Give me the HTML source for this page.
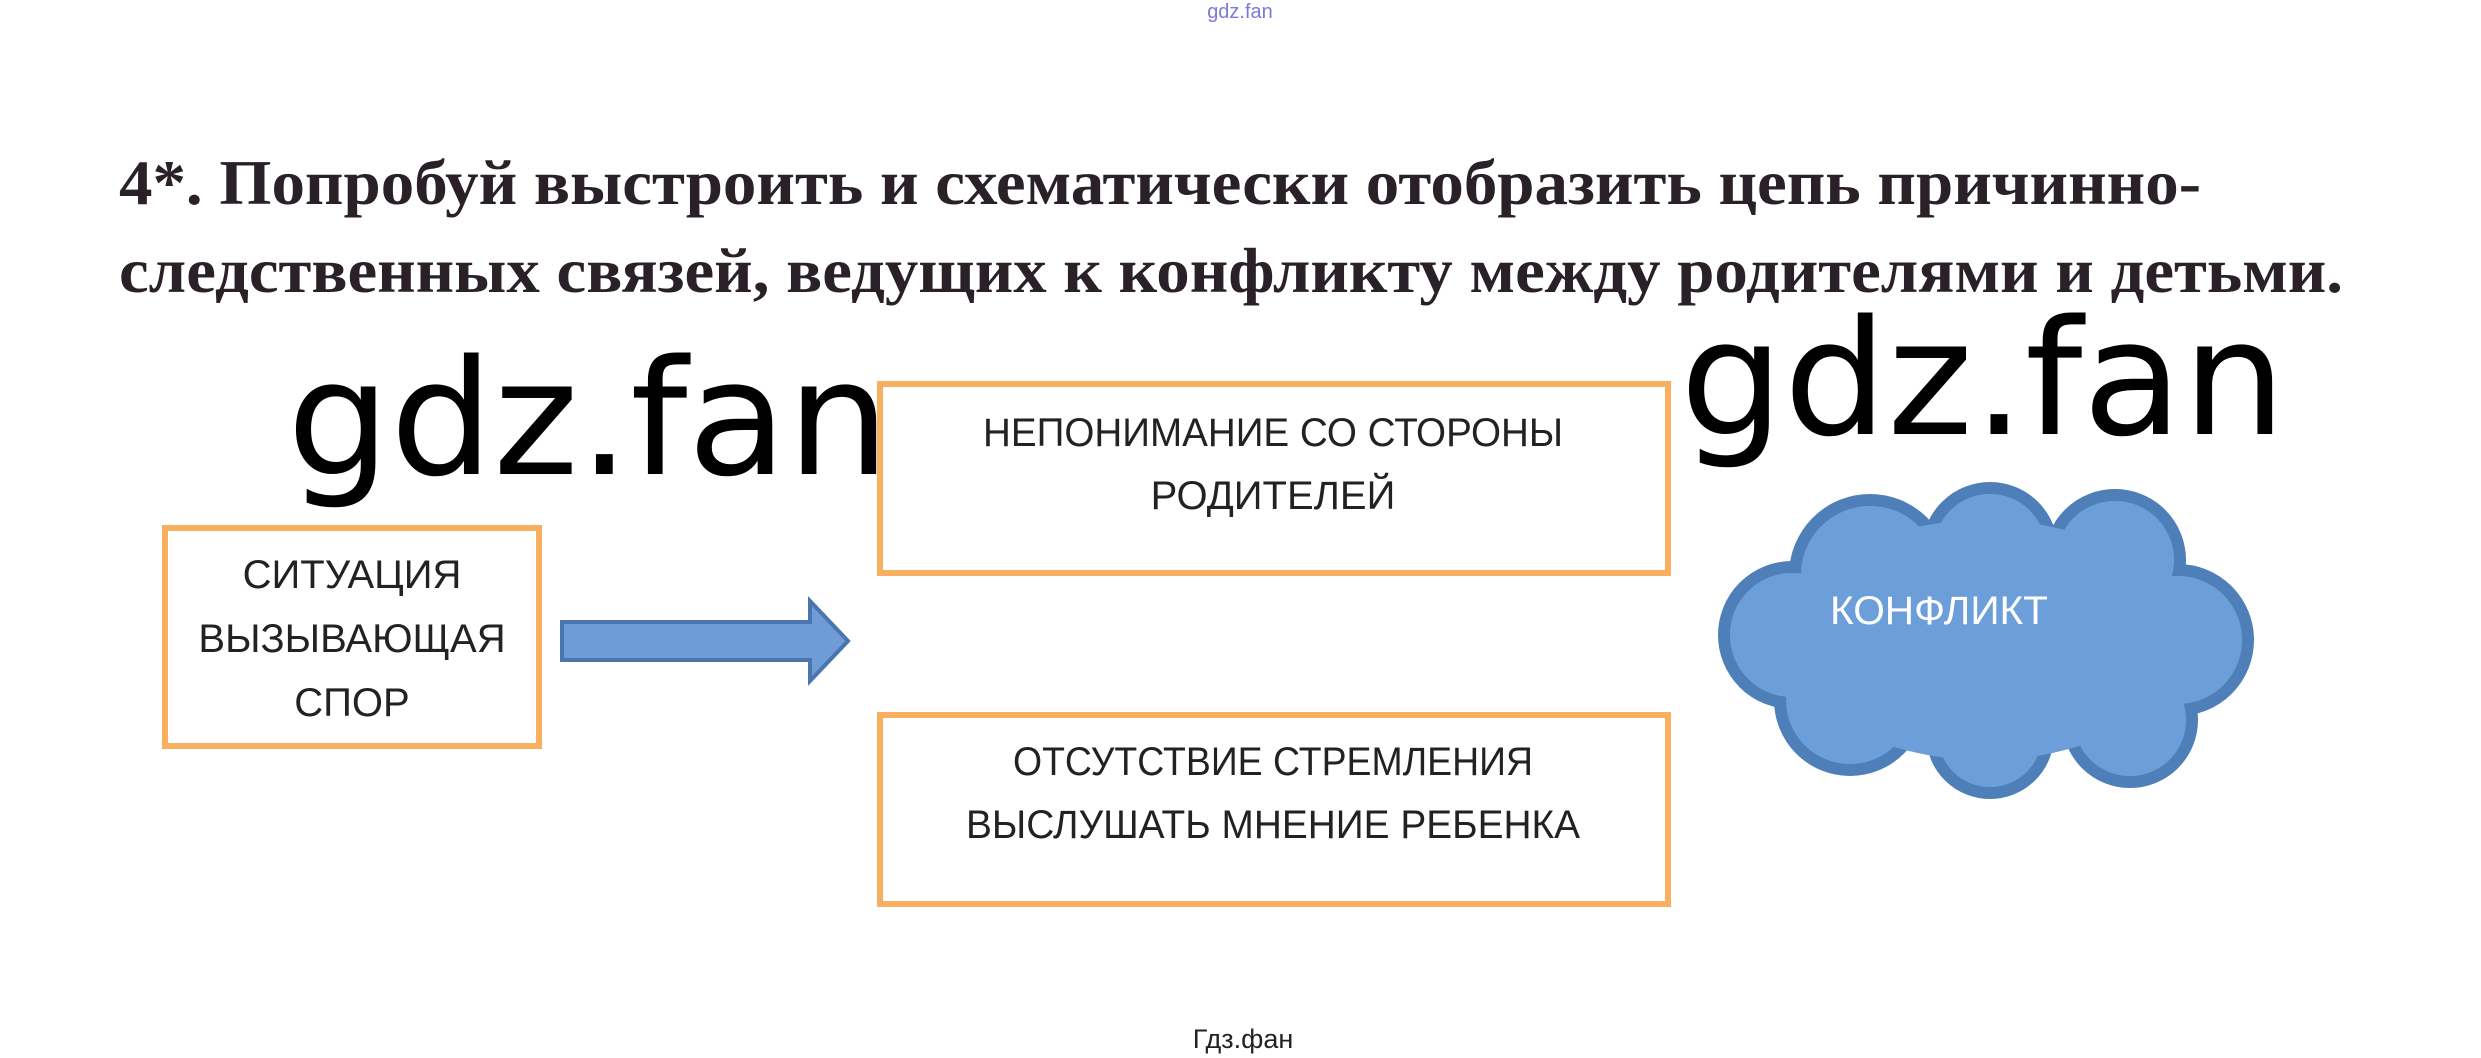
<!DOCTYPE html>
<html><head><meta charset="utf-8"><style>html,body{margin:0;padding:0;background:#fff;width:2481px;height:1058px;overflow:hidden}</style></head>
<body>
<svg width="2481" height="1058" viewBox="0 0 2481 1058" xmlns="http://www.w3.org/2000/svg">
<rect width="2481" height="1058" fill="#fff"/>
<text x="1240" y="18" font-family="Liberation Sans, sans-serif" font-size="20" fill="#7a7ad8" text-anchor="middle">gdz.fan</text>
<g font-family="Liberation Serif, serif" font-weight="bold" font-size="64" fill="#2a2128">
<text x="119" y="204" textLength="2082" lengthAdjust="spacingAndGlyphs">4*. Попробуй выстроить и схематически отобразить цепь причинно-</text>
<text x="119" y="292" textLength="2224" lengthAdjust="spacingAndGlyphs">следственных связей, ведущих к конфликту между родителями и детьми.</text>
</g>
<g fill="none" stroke="#F8B060" stroke-width="6">
<rect x="165" y="528" width="374" height="218"/>
<rect x="880" y="384" width="788" height="189"/>
<rect x="880" y="715" width="788" height="189"/>
</g>
<g font-family="Liberation Sans, sans-serif" font-size="40" fill="#222" text-anchor="middle">
<text x="352" y="588">СИТУАЦИЯ</text>
<text x="352" y="652">ВЫЗЫВАЮЩАЯ</text>
<text x="352" y="716">СПОР</text>
<text x="1273" y="446" textLength="580" lengthAdjust="spacingAndGlyphs">НЕПОНИМАНИЕ СО СТОРОНЫ</text>
<text x="1273" y="509">РОДИТЕЛЕЙ</text>
<text x="1273" y="775" textLength="520" lengthAdjust="spacingAndGlyphs">ОТСУТСТВИЕ СТРЕМЛЕНИЯ</text>
<text x="1273" y="838" textLength="614" lengthAdjust="spacingAndGlyphs">ВЫСЛУШАТЬ МНЕНИЕ РЕБЕНКА</text>
</g>
<path d="M562 622 H810 V601 L848 641 L810 681 V660 H562 Z" fill="#6F9BD6" stroke="#4A76B0" stroke-width="4"/>
<g stroke="#4F7FB8" stroke-width="12" fill="#6C9FDA">
<circle cx="1870" cy="575" r="75"/><circle cx="1990" cy="550" r="62"/><circle cx="2115" cy="560" r="65"/>
<circle cx="2178" cy="640" r="70"/><circle cx="2130" cy="720" r="62"/><circle cx="1990" cy="735" r="58"/>
<circle cx="1850" cy="700" r="70"/><circle cx="1792" cy="635" r="68"/>
</g>
<g fill="#6C9FDA">
<circle cx="1870" cy="575" r="69"/><circle cx="1990" cy="550" r="56"/><circle cx="2115" cy="560" r="59"/>
<circle cx="2178" cy="640" r="64"/><circle cx="2130" cy="720" r="56"/><circle cx="1990" cy="735" r="52"/>
<circle cx="1850" cy="700" r="64"/><circle cx="1792" cy="635" r="62"/>
<ellipse cx="1985" cy="640" rx="200" ry="120"/>
</g>
<text x="1830" y="624" font-family="Liberation Sans, sans-serif" font-size="40" fill="#fff" textLength="218" lengthAdjust="spacingAndGlyphs">КОНФЛИКТ</text>
<g font-family="DejaVu Sans, sans-serif" font-size="160" fill="#000">
<text x="287" y="474" textLength="603" lengthAdjust="spacingAndGlyphs">gdz.fan</text>
<text x="1680" y="434" textLength="606" lengthAdjust="spacingAndGlyphs">gdz.fan</text>
</g>
<text x="1243" y="1048" font-family="Liberation Sans, sans-serif" font-size="27" fill="#222" text-anchor="middle">Гдз.фан</text>
</svg>
</body></html>
